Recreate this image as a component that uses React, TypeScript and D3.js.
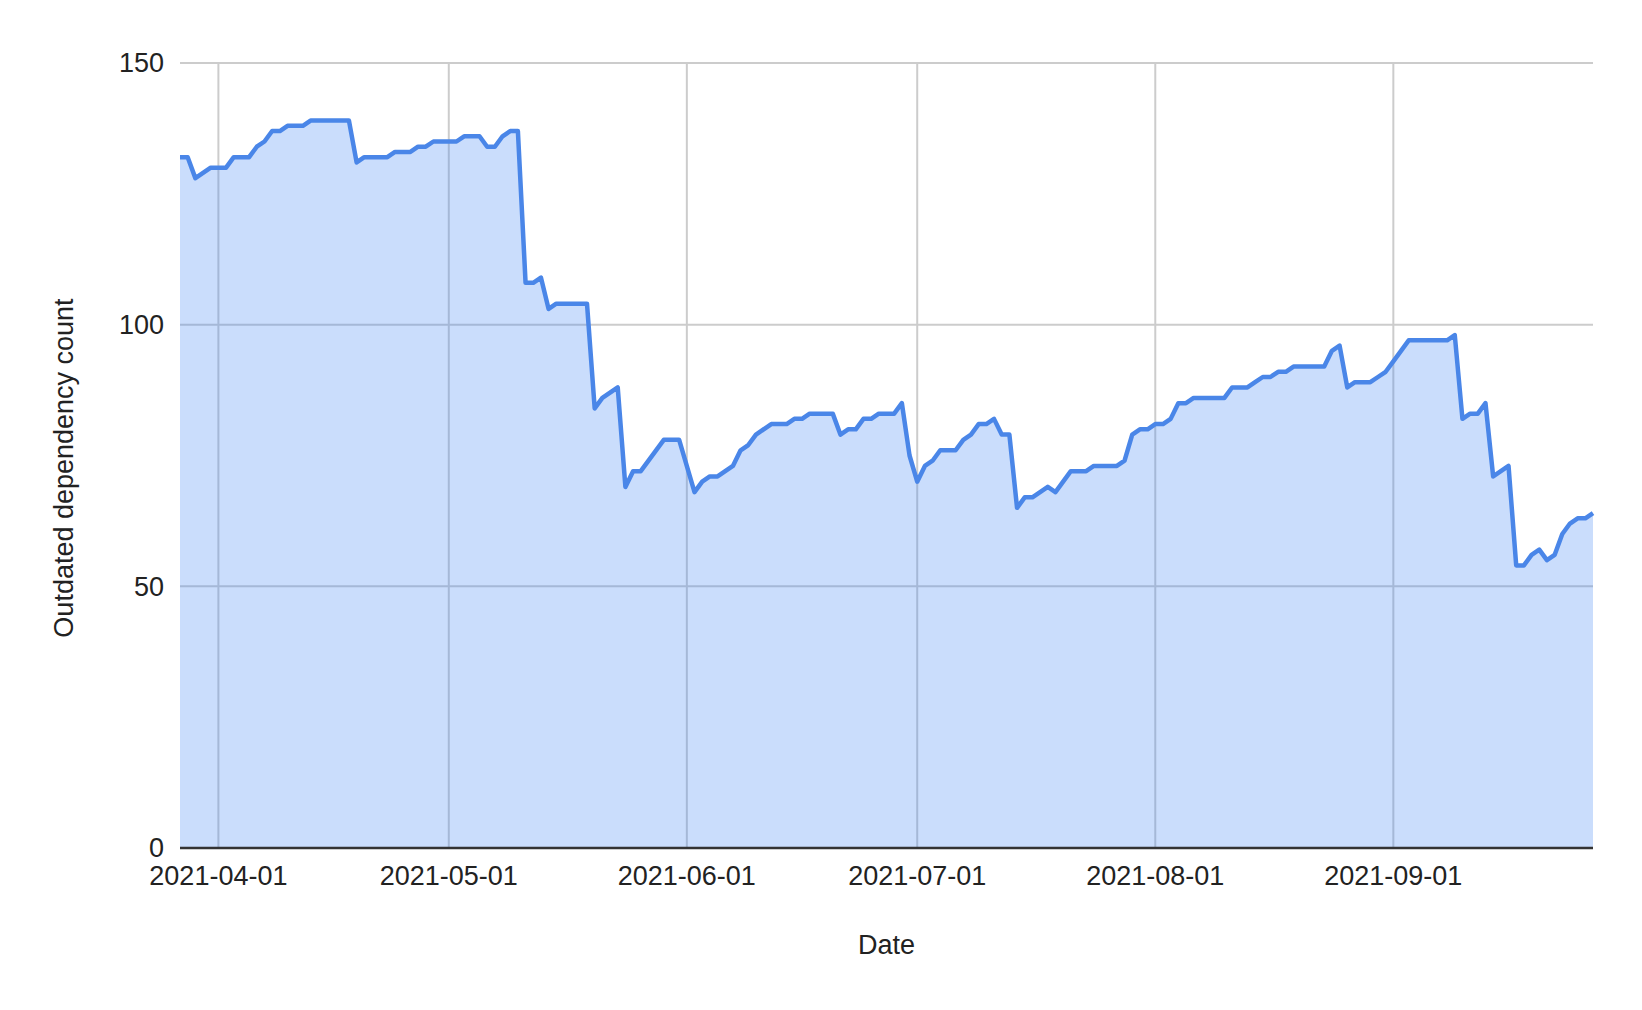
import React from "react";
import * as d3 from "d3";

const dates: string[] = [
  "2021-03-27","2021-03-28","2021-03-29","2021-03-31","2021-04-02","2021-04-03","2021-04-05","2021-04-06",
  "2021-04-07","2021-04-08","2021-04-09","2021-04-10","2021-04-12","2021-04-13","2021-04-18","2021-04-19",
  "2021-04-20","2021-04-23","2021-04-24","2021-04-26","2021-04-27","2021-04-28","2021-04-29","2021-05-02",
  "2021-05-03","2021-05-05","2021-05-06","2021-05-07","2021-05-08","2021-05-09","2021-05-10","2021-05-11",
  "2021-05-12","2021-05-13","2021-05-14","2021-05-15","2021-05-19","2021-05-20","2021-05-21","2021-05-23",
  "2021-05-24","2021-05-25","2021-05-26","2021-05-29","2021-05-31","2021-06-02","2021-06-03","2021-06-04",
  "2021-06-05","2021-06-07","2021-06-08","2021-06-09","2021-06-10","2021-06-12","2021-06-14","2021-06-15",
  "2021-06-16","2021-06-17","2021-06-20","2021-06-21","2021-06-22","2021-06-23","2021-06-24","2021-06-25",
  "2021-06-26","2021-06-28","2021-06-29","2021-06-30","2021-07-01","2021-07-02","2021-07-03","2021-07-04",
  "2021-07-06","2021-07-07","2021-07-08","2021-07-09","2021-07-10","2021-07-11","2021-07-12","2021-07-13",
  "2021-07-14","2021-07-15","2021-07-16","2021-07-17","2021-07-18","2021-07-19","2021-07-21","2021-07-23",
  "2021-07-24","2021-07-27","2021-07-28","2021-07-29","2021-07-30","2021-07-31","2021-08-01","2021-08-02",
  "2021-08-03","2021-08-04","2021-08-05","2021-08-06","2021-08-10","2021-08-11","2021-08-13","2021-08-14",
  "2021-08-15","2021-08-16","2021-08-17","2021-08-18","2021-08-19","2021-08-23","2021-08-24","2021-08-25",
  "2021-08-26","2021-08-27","2021-08-29","2021-08-30","2021-08-31","2021-09-01","2021-09-02","2021-09-03",
  "2021-09-08","2021-09-09","2021-09-10","2021-09-11","2021-09-12","2021-09-13","2021-09-14","2021-09-16",
  "2021-09-17","2021-09-18","2021-09-19","2021-09-20","2021-09-21","2021-09-22","2021-09-23","2021-09-24",
  "2021-09-25","2021-09-26","2021-09-27",
];

const counts: number[] = [
  132,132,128,130,130,132,132,134,
  135,137,137,138,138,139,139,131,
  132,132,133,133,134,134,135,135,
  136,136,134,134,136,137,137,108,
  108,109,103,104,104,84,86,88,
  69,72,72,78,78,68,70,71,
  71,73,76,77,79,81,81,82,
  82,83,83,79,80,80,82,82,
  83,83,85,75,70,73,74,76,
  76,78,79,81,81,82,79,79,
  65,67,67,68,69,68,72,72,
  73,73,74,79,80,80,81,81,
  82,85,85,86,86,88,88,89,
  90,90,91,91,92,92,95,96,
  88,89,89,90,91,93,95,97,
  97,98,82,83,83,85,71,73,
  54,54,56,57,55,56,60,62,
  63,63,64,
];

const monthTicks: string[] = ["2021-04-01","2021-05-01","2021-06-01","2021-07-01","2021-08-01","2021-09-01"];
const yTicks: number[] = [0, 50, 100, 150];

const xTitle = "Date";
const yTitle = "Outdated dependency count";

const W = 1642;
const H = 1010;
const left = 180;
const right = 1593;
const top = 63;
const bottom = 848;
const FONT = "'Liberation Sans', Arial, Helvetica, sans-serif";

export default function App() {
  const parse = d3.timeParse("%Y-%m-%d");
  const data = dates.map((d, i) => ({ date: parse(d) as Date, value: counts[i] }));
  const x = d3
    .scaleTime()
    .domain([data[0].date, data[data.length - 1].date])
    .range([left, right]);
  const y = d3.scaleLinear().domain([0, 150]).range([bottom, top]);

  const area = d3
    .area<{ date: Date; value: number }>()
    .x((d) => x(d.date))
    .y0(y(0))
    .y1((d) => y(d.value));
  const line = d3
    .line<{ date: Date; value: number }>()
    .x((d) => x(d.date))
    .y((d) => y(d.value));

  const ticks = monthTicks.map((t) => parse(t) as Date);
  const fmt = d3.timeFormat("%Y-%m-%d");

  return (
    <svg
      width={W}
      height={H}
      style={{ position: "absolute", left: 0, top: 0, display: "block", background: "#fff" }}
      fontFamily={FONT}
    >
      <rect x={0} y={0} width={W} height={H} fill="#fff" />
      {yTicks.map((t) => (
        <line key={"h" + t} x1={left} x2={right} y1={y(t)} y2={y(t)} stroke="#cccccc" strokeWidth={2} />
      ))}
      {ticks.map((t, i) => (
        <line key={"v" + i} x1={x(t)} x2={x(t)} y1={top} y2={bottom} stroke="#cccccc" strokeWidth={2} />
      ))}
      <path d={area(data) || ""} fill="#4285f4" fillOpacity={0.28} />
      <path
        d={line(data) || ""}
        fill="none"
        stroke="#4a86e8"
        strokeWidth={4.5}
        strokeLinejoin="round"
        strokeLinecap="butt"
      />
      <line x1={left} x2={right} y1={y(0)} y2={y(0)} stroke="#333333" strokeWidth={2.5} />
      {yTicks.map((t) => (
        <text
          key={"yl" + t}
          x={164}
          y={y(t)}
          dy="0.35em"
          textAnchor="end"
          fontSize={27}
          fill="#222"
        >
          {t}
        </text>
      ))}
      {ticks.map((t, i) => (
        <text key={"xl" + i} x={x(t)} y={885} textAnchor="middle" fontSize={27} fill="#222">
          {fmt(t)}
        </text>
      ))}
      <text x={(left + right) / 2} y={954} textAnchor="middle" fontSize={27} fill="#222">
        {xTitle}
      </text>
      <text
        transform={`translate(73, 468) rotate(-90)`}
        textAnchor="middle"
        fontSize={27}
        fill="#222"
      >
        {yTitle}
      </text>
    </svg>
  );
}
